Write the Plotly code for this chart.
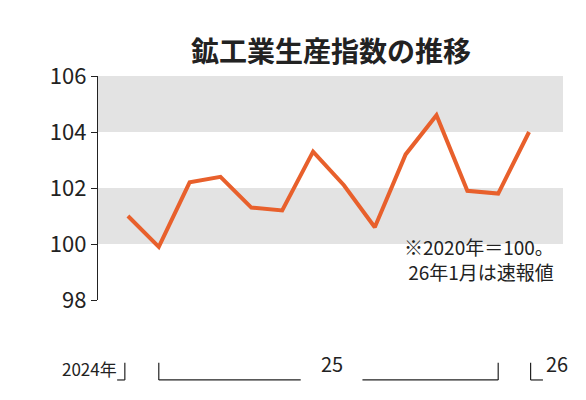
import plotly.graph_objects as go

months = list(range(14))
values = [101.0, 99.9, 102.2, 102.4, 101.3, 101.2, 103.3, 102.1, 100.6, 103.2, 104.6, 101.9, 101.8, 104.0]
label_idx = [0, 1, 3, 6, 9, 12, 13]
label_txt = ["12", "1", "3", "6", "9", "12", "1"]
y_ticks = [98, 100, 102, 104, 106]

F = "Noto Sans CJK JP"
fig = go.Figure()
fig.add_trace(go.Scatter(x=months, y=values, mode="lines",
                         line=dict(color="#e8602c", width=4), hoverinfo="skip"))
fig.add_trace(go.Scatter(x=months, y=[97.43]*len(months), mode="markers",
                         marker=dict(color="#222", size=[6 if i in label_idx else 4 for i in months]),
                         cliponaxis=False, hoverinfo="skip"))
shapes = [
    dict(type="rect", xref="paper", yref="y", x0=0, x1=1, y0=104, y1=106, fillcolor="#e3e3e3", line_width=0, layer="below"),
    dict(type="rect", xref="paper", yref="y", x0=0, x1=1, y0=100, y1=102, fillcolor="#e3e3e3", line_width=0, layer="below"),
]
lw = dict(color="#222", width=1.2)
def ln(x0, y0, x1, y1):
    shapes.append(dict(type="line", xref="x", yref="paper", x0=x0, y0=y0, x1=x1, y1=y1, line=lw))
# 2024 bracket
ln(-0.1, -0.28, -0.1, -0.357); ln(-0.1, -0.357, -0.35, -0.357)
# 25 bracket
ln(1, -0.28, 1, -0.357); ln(1, -0.357, 5.6, -0.357)
ln(7.6, -0.357, 12, -0.357); ln(12, -0.357, 12, -0.28)
# 26
ln(13.05, -0.28, 13.05, -0.357); ln(13.05, -0.357, 13.45, -0.357)

ann = []
for i, t in zip(label_idx, label_txt):
    ann.append(dict(x=i, y=96.36, xref="x", yref="y", text=t, showarrow=False,
                    font=dict(size=22, family=F, color="#222")))
ann += [
    dict(x=-0.3, y=-0.37, xref="x", yref="paper", text="2024年", xanchor="right", showarrow=False,
         font=dict(size=17, family=F, color="#222")),
    dict(x=6.6, y=-0.357, xref="x", yref="paper", text="25", showarrow=False,
         font=dict(size=20, family=F, color="#222")),
    dict(x=13.5, y=-0.357, xref="x", yref="paper", text="26", xanchor="left", showarrow=False,
         font=dict(size=20, family=F, color="#222")),
    dict(x=0.985, y=0.31, xref="paper", yref="paper", text="※2020年＝100。<br>26年1月は速報値",
         xanchor="right", yanchor="top", align="right", showarrow=False,
         font=dict(size=19, family=F, color="#222")),
    dict(x=0.5, y=1.215, xref="paper", yref="paper", text="<b>鉱工業生産指数の推移</b>",
         xanchor="center", yanchor="top", showarrow=False, font=dict(size=28, family=F, color="#222")),
]
fig.update_layout(
    width=586, height=400, margin=dict(l=90, r=31, t=68, b=108),
    plot_bgcolor="white", paper_bgcolor="white", showlegend=False,
    shapes=shapes, annotations=ann,
    xaxis=dict(range=[-0.97, 14.1], showticklabels=False, showgrid=False, zeroline=False),
    yaxis=dict(range=[98, 106], tickvals=y_ticks, showgrid=False, zeroline=False,
               showline=True, linecolor="#222", linewidth=1.2, ticks="outside", ticklen=6,
               tickcolor="#222", tickfont=dict(size=22, family=F, color="#222")),
)
fig.write_html("out.html")
